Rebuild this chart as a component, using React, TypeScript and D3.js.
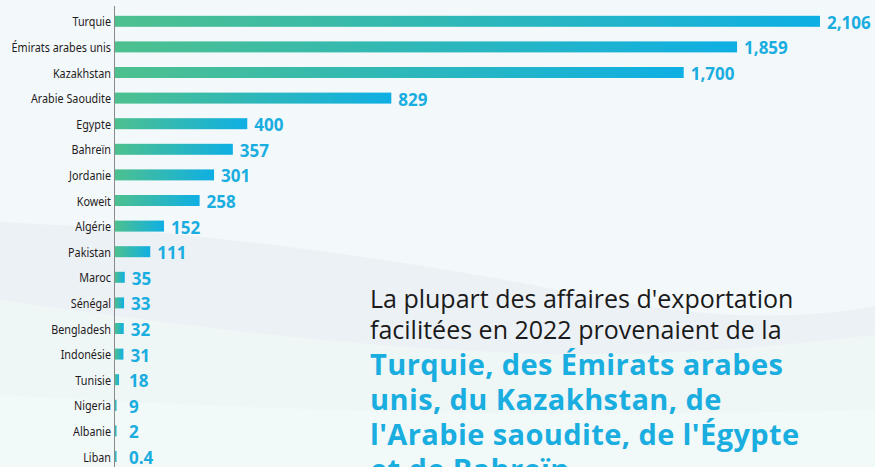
import React, { useEffect, useRef } from 'react';
import * as d3 from 'd3';

const countries = [
  'Turquie', 'Émirats arabes unis', 'Kazakhstan', 'Arabie Saoudite', 'Egypte', 'Bahreïn',
  'Jordanie', 'Koweit', 'Algérie', 'Pakistan', 'Maroc', 'Sénégal', 'Bengladesh',
  'Indonésie', 'Tunisie', 'Nigeria', 'Albanie', 'Liban',
];
const values = [2106, 1859, 1700, 829, 400, 357, 301, 258, 152, 111, 35, 33, 32, 31, 18, 9, 2, 0.4];
const valueLabels = ['2,106', '1,859', '1,700', '829', '400', '357', '301', '258', '152', '111', '35', '33', '32', '31', '18', '9', '2', '0.4'];

const introLines = ["La plupart des affaires d'exportation", 'facilitées en 2022 provenaient de la'];
const highlightLines = ['Turquie, des Émirats arabes', 'unis, du Kazakhstan, de', "l'Arabie saoudite, de l'Égypte", 'et de Bahreïn'];

const W = 875;
const H = 467;

export default function App() {
  const svgRef = useRef<SVGSVGElement>(null);

  useEffect(() => {
    if (!svgRef.current) return;
    const svg = d3.select(svgRef.current);
    svg.selectAll('*').remove();

    const defs = svg.append('defs');
    const grad = defs.append('linearGradient').attr('id', 'barGrad');
    grad.append('stop').attr('offset', '0%').attr('stop-color', '#4dc08e');
    grad.append('stop').attr('offset', '100%').attr('stop-color', '#0fafe4');

    // background + soft waves
    svg.append('rect').attr('width', W).attr('height', H).attr('fill', '#f3f9fa');
    svg.append('path')
      .attr('d', 'M0,222 C220,232 420,262 600,298 C720,322 810,318 875,306 L875,467 L0,467 Z')
      .attr('fill', '#eaf0f5').attr('opacity', 0.85);
    svg.append('path')
      .attr('d', 'M0,300 C180,325 330,345 500,352 C660,360 780,345 875,335 L875,467 L0,467 Z')
      .attr('fill', '#eff7f5').attr('opacity', 0.95);
    svg.append('path')
      .attr('d', 'M0,395 C200,405 420,420 875,410 L875,467 L0,467 Z')
      .attr('fill', '#f2f8f9').attr('opacity', 0.9);

    const x = d3.scaleLinear().domain([0, 2106]).range([113, 820]);
    const y = d3.scalePoint<string>().domain(countries).range([8.5, 469.3]).padding(0.5);
    const x0 = 115;
    const barH = 11;

    const rows = svg.append('g')
      .selectAll('g')
      .data(countries)
      .enter()
      .append('g')
      .attr('transform', d => `translate(0,${y(d)})`);

    rows.append('rect')
      .attr('x', x0)
      .attr('y', -barH / 2)
      .attr('height', barH)
      .attr('width', (d, i) => Math.max(x(values[i]) - x0, 1.5))
      .attr('fill', 'url(#barGrad)');

    // condensed-looking category labels
    rows.append('text')
      .text(d => d)
      .attr('transform', 'translate(111,5) scale(0.8,1)')
      .attr('text-anchor', 'end')
      .attr('fill', '#1f1b1c')
      .attr('font-family', '"Noto Sans", sans-serif')
      .attr('font-size', 13.5);

    rows.append('text')
      .text((d, i) => valueLabels[i])
      .attr('x', (d, i) => Math.max(x(values[i]) + 7, 129))
      .attr('y', 7.5)
      .attr('fill', '#1aade0')
      .attr('font-family', '"Open Sans", sans-serif')
      .attr('font-weight', 700)
      .attr('font-size', 17);

    // axis line
    svg.append('line')
      .attr('x1', 114.5).attr('x2', 114.5)
      .attr('y1', 6).attr('y2', H)
      .attr('stroke', '#8a8a8a').attr('stroke-width', 1);

    // commentary
    const note = svg.append('g').attr('font-family', '"Open Sans", sans-serif');
    note.selectAll('text.intro')
      .data(introLines)
      .enter()
      .append('text')
      .attr('class', 'intro')
      .attr('x', 370)
      .attr('y', (d, i) => 308 + i * 31)
      .attr('fill', '#1a1a1a')
      .attr('font-size', 25)
      .text(d => d);
    note.selectAll('text.hl')
      .data(highlightLines)
      .enter()
      .append('text')
      .attr('class', 'hl')
      .attr('x', 370)
      .attr('y', (d, i) => 375 + i * 35)
      .attr('fill', '#1aade0')
      .attr('font-weight', 700)
      .attr('font-size', 29)
      .attr('letter-spacing', 0.4)
      .text(d => d);
  }, []);

  return (
    <div style={{ position: 'fixed', left: 0, top: 0, width: W, height: H }}>
      <svg ref={svgRef} width={W} height={H} style={{ display: 'block' }} />
    </div>
  );
}
